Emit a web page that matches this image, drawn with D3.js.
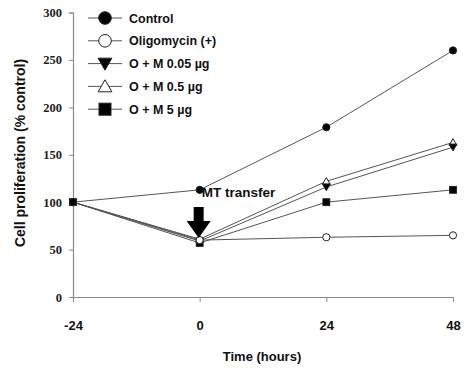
<!DOCTYPE html>
<html>
<head>
<meta charset="utf-8">
<script src="https://cdn.jsdelivr.net/npm/d3@7"></script>
<style>
  html, body { margin: 0; padding: 0; background: #fff; }
  svg { display: block; }
</style>
</head>
<body>
<svg id="chart" width="464" height="374"></svg>
<script>
// Time points (hours) and tick labels
const timePoints = [-24, 0, 24, 48];
const xTickLabels = ["-24", "0", "24", "48"];
const yTicks = [0, 50, 100, 150, 200, 250, 300];

// Series names and values (% of control)
const seriesNames = ["Control", "Oligomycin (+)", "O + M 0.05 \u00b5g", "O + M 0.5 \u00b5g", "O + M 5 \u00b5g"];
const controlValues = [100, 113, 179, 260];
const oligomycinValues = [100, 60, 63, 65];
const om005Values = [100, 59, 116, 158];
const om05Values = [100, 61, 122, 163];
const om5Values = [100, 57, 100, 113];

const series = [
  { name: seriesNames[0], values: controlValues, shape: "circle", fill: "#000" },
  { name: seriesNames[1], values: oligomycinValues, shape: "circle", fill: "#fff" },
  { name: seriesNames[2], values: om005Values, shape: "triDown", fill: "#000" },
  { name: seriesNames[3], values: om05Values, shape: "triUp", fill: "#fff" },
  { name: seriesNames[4], values: om5Values, shape: "square", fill: "#000" }
];

const sans = "'Liberation Sans', Arial, sans-serif";
const serif = "'Liberation Serif', 'Times New Roman', serif";

const svg = d3.select("#chart");
const x = d3.scaleLinear().domain([-24, 48]).range([73, 453]);
const y = d3.scaleLinear().domain([0, 300]).range([297, 12.5]);

const axisColor = "#8a8a8a";

// Y axis
const yAxis = svg.append("g")
  .attr("transform", `translate(${x(-24)},0)`)
  .call(d3.axisLeft(y).tickValues(yTicks).tickSize(4).tickPadding(7));
yAxis.select(".domain").attr("stroke", axisColor).attr("stroke-width", 1.2);
yAxis.selectAll(".tick line").attr("stroke", axisColor);
yAxis.selectAll(".tick text")
  .attr("fill", "#222")
  .attr("font-family", serif)
  .style("font-family", serif)
  .style("font-weight", "bold")
  .style("font-size", "12.5px");

// X axis
const xAxis = svg.append("g")
  .attr("transform", `translate(0,${y(0)})`)
  .call(d3.axisBottom(x).tickValues(timePoints)
    .tickFormat((d, i) => xTickLabels[i])
    .tickSize(5).tickPadding(19).tickSizeOuter(0));
xAxis.select(".domain").attr("stroke", axisColor).attr("stroke-width", 1.2);
xAxis.selectAll(".tick line").attr("stroke", axisColor);
xAxis.selectAll(".tick text")
  .attr("fill", "#111")
  .style("font-family", sans)
  .style("font-weight", "bold")
  .style("font-size", "13px");

// Axis titles
svg.append("text")
  .attr("x", 262).attr("y", 361)
  .attr("text-anchor", "middle")
  .style("font-family", sans)
  .style("font-weight", "bold")
  .style("font-size", "13px")
  .attr("fill", "#111")
  .text("Time (hours)");

svg.append("text")
  .attr("transform", "translate(25,153) rotate(-90)")
  .attr("text-anchor", "middle")
  .style("font-family", sans)
  .style("font-weight", "bold")
  .style("font-size", "14px")
  .attr("fill", "#111")
  .text("Cell proliferation (% control)");

// Marker drawing
function marker(sel, shape, fill, s) {
  let node;
  if (shape === "circle") {
    node = sel.append("circle").attr("r", s);
  } else if (shape === "square") {
    node = sel.append("rect").attr("x", -s).attr("y", -s).attr("width", 2 * s).attr("height", 2 * s);
  } else if (shape === "triDown") {
    node = sel.append("path").attr("d", `M${-s * 1.15},${-s * 0.9}L${s * 1.15},${-s * 0.9}L0,${s * 1.1}Z`);
  } else {
    node = sel.append("path").attr("d", `M${-s * 1.15},${s * 0.9}L${s * 1.15},${s * 0.9}L0,${-s * 1.1}Z`);
  }
  node.attr("fill", fill).attr("stroke", "#222").attr("stroke-width", 1);
}

// Lines
const line = d3.line().x((d, i) => x(timePoints[i])).y(d => y(d));
svg.append("g").selectAll("path")
  .data(series)
  .join("path")
  .attr("d", d => line(d.values))
  .attr("fill", "none")
  .attr("stroke", "#555")
  .attr("stroke-width", 1);

// Points (drawn in reverse so control sits on top)
series.slice().reverse().forEach(s => {
  s.values.forEach((v, i) => {
    const g = svg.append("g").attr("transform", `translate(${x(timePoints[i])},${y(v)})`);
    marker(g, s.shape, s.fill, s.shape === "circle" ? 3.6 : 3.4);
  });
});

// Arrow marking the transfer time
const ax = x(0) - 1;
svg.append("path")
  .attr("d", `M${ax - 5},207 L${ax + 5},207 L${ax + 5},221 L${ax + 12},221 L${ax},238 L${ax - 12},221 L${ax - 5},221 Z`)
  .attr("fill", "#000");
svg.append("text")
  .attr("x", ax + 3).attr("y", 197)
  .style("font-family", sans)
  .style("font-weight", "bold")
  .style("font-size", "13.5px")
  .attr("fill", "#111")
  .text("MT transfer");

// Legend
const legend = svg.append("g");
series.forEach((s, i) => {
  const ly = 18 + i * 22.8;
  const g = legend.append("g").attr("transform", `translate(0,${ly})`);
  g.append("line").attr("x1", 88).attr("x2", 122).attr("y1", 0).attr("y2", 0)
    .attr("stroke", "#555").attr("stroke-width", 1);
  const mg = g.append("g").attr("transform", "translate(105,0)");
  marker(mg, s.shape, s.fill, s.shape === "circle" ? 6.3 : 6);
  g.append("text")
    .attr("x", 129).attr("y", 4.5)
    .style("font-family", sans)
    .style("font-weight", "bold")
    .style("font-size", "12.5px")
    .attr("fill", "#111")
    .text(s.name);
});
</script>
</body>
</html>
